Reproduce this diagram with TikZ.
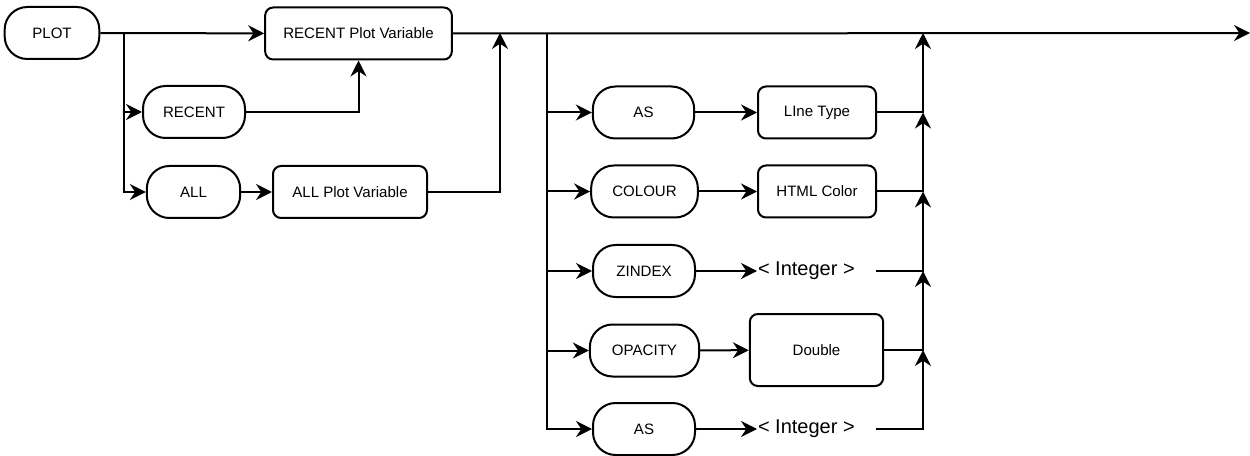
\documentclass[tikz,border=0pt]{standalone}
\usepackage{fontspec}
\setmainfont{Liberation Sans}
\usetikzlibrary{arrows.meta,positioning}

\begin{document}
\begin{tikzpicture}[x=0.75pt, y=-0.75pt, line width=1.5pt,
    keyword/.style = {draw, rounded corners=17pt, minimum height=39pt, inner sep=0pt,
                      font=\fontsize{11.3}{13}\selectfont},
    varbox/.style = {draw, rounded corners=6pt, minimum height=39pt, inner sep=0pt,
                     font=\fontsize{11.3}{13}\selectfont},
    inttext/.style = {inner sep=0pt, font=\fontsize{15}{18}\selectfont},
    arr/.style = {-{Stealth[length=12pt, width=12pt, inset=4pt]}}]

    \useasboundingbox (0,0) rectangle (1250,456);

    % first part
    \node[keyword, minimum width=71pt] (plot) at (52,33) {PLOT};
    \node[varbox, minimum width=140pt] (rpv) at (358.5,33.5) {RECENT Plot Variable};
    \node[keyword, minimum width=76.5pt] (recent) at (194,112) {RECENT};
    \node[keyword, minimum width=70pt] (all) at (193.5,192) {ALL};
    \node[varbox, minimum width=115.5pt] (apv) at (350,192) {ALL Plot Variable};

    \coordinate (b1) at (124,33);
    \coordinate (j1) at (500,33);
    \coordinate (b2) at (547,33);
    \coordinate (j2) at (923,33);
    \coordinate (end) at (1250,33);

    \draw[arr] (plot) -- (rpv);
    \draw[arr] (b1) |- (all.west);
    \draw[arr] (b1 |- recent.west) -- (recent.west);
    \draw[arr] (recent.east) -| (rpv.south);
    \draw[arr] (all) -- (apv);
    \draw[arr] (apv.east) -| (j1);
    \draw[arr] (rpv.east) -- (end);

    % options
    \node[keyword, minimum width=76pt] (as1) at (643.5,112.5) {AS};
    \node[varbox, minimum width=88.5pt] (ltype) at (817,112.5) {LIne Type};
    \node[keyword, minimum width=80pt] (colour) at (644.5,191.5) {COLOUR};
    \node[varbox, minimum width=88.5pt] (html) at (817,191.5) {HTML Color};
    \node[keyword, minimum width=76.5pt] (zindex) at (644,271) {ZINDEX};
    \node[inttext, anchor=west] (int1) at (757,271) {< Integer >};
    \node[keyword, minimum width=82pt] (opacity) at (644.5,350.5) {OPACITY};
    \node[varbox, minimum width=100pt, minimum height=54pt] (double) at (816.5,350) {Double};
    \node[keyword, minimum width=76.5pt] (as2) at (644,429) {AS};
    \node[inttext, anchor=west] (int2) at (757,429) {< Integer >};

    \coordinate (i1e) at (876,271);
    \coordinate (i2e) at (876,429);

    \draw[arr] (b2) |- (as2.west);
    \draw[arr] (b2 |- as1.west) -- (as1.west);
    \draw[arr] (b2 |- colour.west) -- (colour.west);
    \draw[arr] (b2 |- zindex.west) -- (zindex.west);
    \draw[arr] (b2 |- opacity.west) -- (opacity.west);

    \draw[arr] (as1) -- (ltype);
    \draw[arr] (colour) -- (html);
    \draw[arr] (zindex) -- (int1.west);
    \draw[arr] (opacity) -- (double);
    \draw[arr] (as2) -- (int2.west);

    \draw[arr] (ltype.east) -| (j2);
    \draw[arr] (html.east) -| (j2 |- ltype.east);
    \draw[arr] (i1e) -| (j2 |- html.east);
    \draw[arr] (double.east) -| (j2 |- i1e);
    \draw[arr] (i2e) -| (j2 |- double.east);

\end{tikzpicture}
\end{document}
